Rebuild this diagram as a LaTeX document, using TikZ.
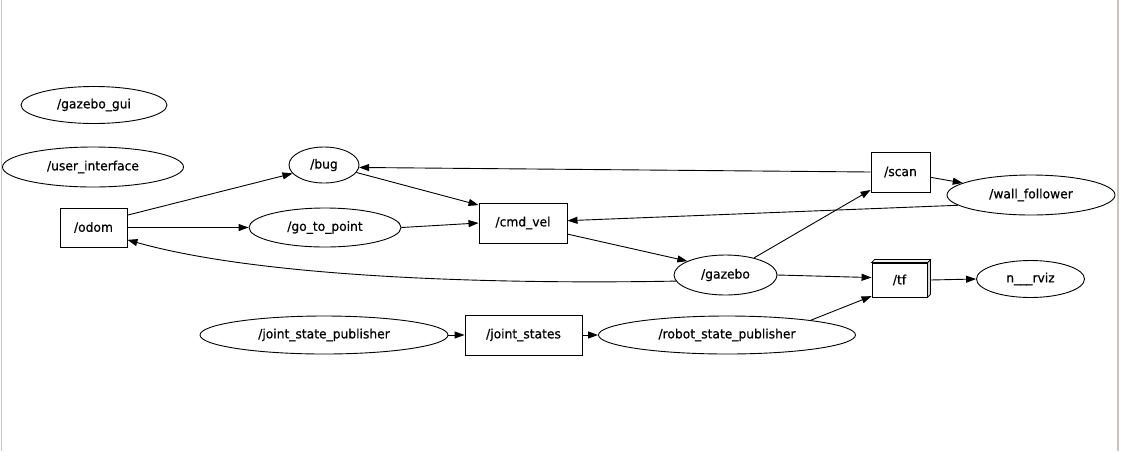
\documentclass[tikz,border=0pt]{standalone}
\usepackage{fontspec}
\setmainfont{DejaVu Sans}[FakeBold=0.5, FakeStretch=0.96]
\usetikzlibrary{arrows.meta,shapes.geometric,calc}
\definecolor{bordergray}{RGB}{200,196,192}
\begin{document}
\begin{tikzpicture}[x=1pt,y=-1pt,
  every node/.style={font=\fontsize{12.8}{14}\selectfont, inner sep=0pt, line width=0.9pt},
  nodeell/.style={draw, ellipse},
  topicbox/.style={draw, rectangle},
  edge/.style={line width=0.9pt, -{Triangle[length=10pt,width=7pt]}}
]
\useasboundingbox (0,0) rectangle (1121,451);
\fill[white] (0,0) rectangle (1121,451);
\draw[bordergray, line width=1.5pt] (1.3,0) -- (1.3,451);
\draw[bordergray, line width=1.5pt] (1118,0) -- (1118,451);

% nodes
\node[nodeell, minimum width=146, minimum height=37] (gui) at (94,105) {/gazebo\_gui};
\node[nodeell, minimum width=181, minimum height=40] (ui) at (93,167) {/user\_interface};
\node[topicbox, minimum width=67, minimum height=39] (odom) at (93.5,227.5) {/odom};
\node[nodeell, minimum width=70, minimum height=36] (bug) at (324,165) {/bug};
\node[nodeell, minimum width=152, minimum height=39] (gtp) at (325,227.5) {/go\_to\_point};
\node[topicbox, minimum width=88, minimum height=40] (cmd) at (523,223) {/cmd\_vel};
\node[topicbox, minimum width=59, minimum height=40] (scan) at (900.5,172) {/scan};
\node[nodeell, minimum width=168, minimum height=40] (wf) at (1031,195) {/wall\_follower};
\node[nodeell, minimum width=103, minimum height=40] (gz) at (725.5,275) {/gazebo};
\node[topicbox, minimum width=55, minimum height=34] (tf) at (899.5,280) {/tf};
\node[nodeell, minimum width=108, minimum height=37] (rviz) at (1030.5,279) {n\_\_\_rviz};
\node[nodeell, minimum width=248, minimum height=38] (jsp) at (324,335) {/joint\_state\_publisher};
\node[topicbox, minimum width=117, minimum height=40] (js) at (523.5,335) {/joint\_states};
\node[nodeell, minimum width=257, minimum height=38] (rsp) at (727,335) {/robot\_state\_publisher};

% 3d effect of /tf
\filldraw[fill=gray!30, line width=0.7pt] (tf.north east) -- ++(3,-3) -- ($(tf.south east)+(3,-3)$) -- (tf.south east) -- cycle;
\filldraw[fill=gray!12, line width=0.7pt] (tf.north west) -- ++(3,-3) -- ($(tf.north east)+(3,-3)$) -- (tf.north east) -- cycle;

% edges
\draw[edge] (odom.20) -- (bug.195);
\draw[edge] (odom.east) -- (gtp.west);
\draw[edge] (gz.187) .. controls (520,284) and (270,280) .. (odom.-20);
\draw[edge] (bug.-13) -- (cmd.158);
\draw[edge] (gtp.east) -- (cmd.180);
\draw[edge] (scan.west) -- (bug.-4);
\draw[edge] (scan.-10) -- (wf.170);
\draw[edge] (wf.188) -- (cmd.3);
\draw[edge] (cmd.-14) -- (gz.160);
\draw[edge] (gz.31) -- (scan.211);
\draw[edge] (gz.east) -- (tf.175);
\draw[edge] ([xshift=3pt]tf.east) -- (rviz.west);
\draw[edge] (rsp.10.5) -- (tf.210);
\draw[edge] (jsp.east) -- (js.west);
\draw[edge] (js.east) -- (rsp.west);
\end{tikzpicture}
\end{document}
